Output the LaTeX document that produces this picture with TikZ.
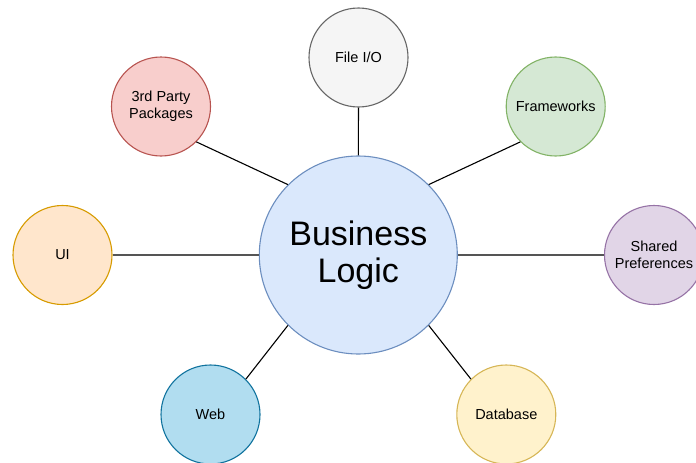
\documentclass[tikz,border=0pt]{standalone}
\usepackage{fontspec}
\setmainfont{Liberation Sans}
\definecolor{redF}{HTML}{F8CECC}\definecolor{redD}{HTML}{B85450}
\definecolor{grayF}{HTML}{F5F5F5}\definecolor{grayD}{HTML}{666666}
\definecolor{greenF}{HTML}{D5E8D4}\definecolor{greenD}{HTML}{82B366}
\definecolor{orangeF}{HTML}{FFE6CC}\definecolor{orangeD}{HTML}{D79B00}
\definecolor{blueF}{HTML}{B1DDF0}\definecolor{blueD}{HTML}{10739E}
\definecolor{yellowF}{HTML}{FFF2CC}\definecolor{yellowD}{HTML}{D6B656}
\definecolor{purpleF}{HTML}{E1D5E7}\definecolor{purpleD}{HTML}{9673A6}
\definecolor{coreF}{HTML}{DAE8FC}\definecolor{coreD}{HTML}{6C8EBF}
\definecolor{linkG}{HTML}{555555}
\tikzset{
  sat/.style={circle, draw=#1D, fill=#1F, line width=1.1pt, minimum size=99pt, inner sep=0pt,
    align=center, font=\fontsize{14.5}{17}\selectfont},
  core/.style={circle, draw=coreD, fill=coreF, line width=1.1pt, minimum size=198pt, inner sep=0pt,
    align=center, font=\fontsize{34}{37.5}\selectfont},
  link/.style={draw=black, line width=1.1pt},
  hlink/.style={draw=linkG, line width=2pt}
}
\begin{document}
\begin{tikzpicture}[x=1pt,y=-1pt]
\useasboundingbox (0,0) rectangle (696,463);
\node[core] (bl) at (358.3,255) {Business\\Logic};
\node[sat=red] (tp) at (161,106.5) {3rd Party\\Packages};
\node[sat=gray] (fio) at (358.5,57.5) {File I/O};
\node[sat=green] (fw) at (555.7,106.5) {Frameworks};
\node[sat=orange] (ui) at (62.5,255) {UI};
\node[sat=purple] (sp) at (654,255) {Shared\\Preferences};
\node[sat=blue] (web) at (210.5,414.5) {Web};
\node[sat=yellow] (db) at (506.3,414.5) {Database};
\draw[link] (tp.south east) -- (bl.north west);
\draw[link] (fio.south) -- (bl.north);
\draw[link] (fw.south west) -- (bl.north east);
\draw[link] (web.north east) -- (bl.south west);
\draw[link] (db.north west) -- (bl.south east);
\draw[hlink] (ui.east) -- (bl.west);
\draw[hlink] (sp.west) -- (bl.east);
\end{tikzpicture}
\end{document}
